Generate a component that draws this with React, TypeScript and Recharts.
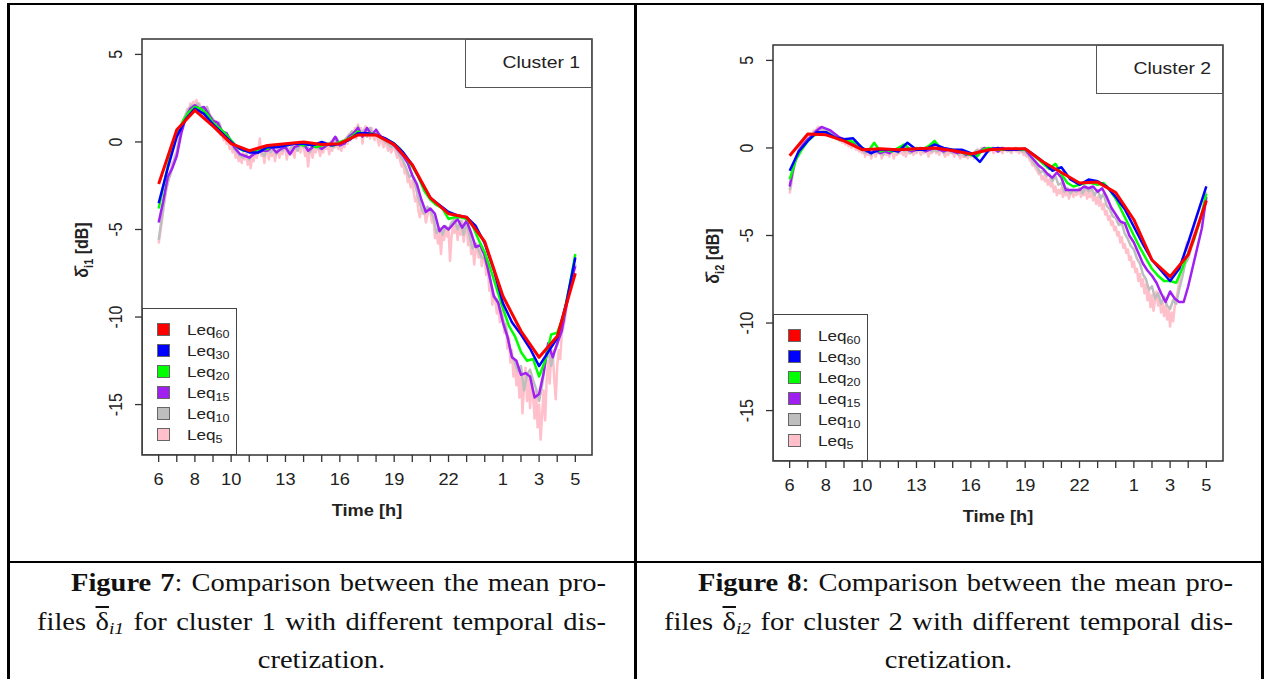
import React from "react";
import { LineChart, Line, XAxis, YAxis, ReferenceArea, Legend } from "recharts";

// hour ticks (6h .. 5h next day, written as 6..29)
const hourTicks = [6, 7, 8, 9, 10, 11, 12, 13, 14, 15, 16, 17, 18, 19, 20, 21, 22, 23, 24, 25, 26, 27, 28, 29];
const hourLabels = ["6", "", "8", "", "10", "", "", "13", "", "", "16", "", "", "19", "", "", "22", "", "", "1", "", "3", "", "5"];
const deltaTicks = [-15, -10, -5, 0, 5];

const seriesNames = ["Leq60", "Leq30", "Leq20", "Leq15", "Leq10", "Leq5"];
const seriesSubs = ["60", "30", "20", "15", "10", "5"];
const seriesColors = ["#FF0000", "#0000FF", "#00FF00", "#A020F0", "#BEBEBE", "#FFC0CB"];
const seriesWidths = [3, 2.5, 2.5, 2.5, 2.5, 2.5];
const samplesPerHour = [1, 2, 3, 4, 6, 12];

// ---- cluster 1 ----
const c1Leq60 = [-2.4, 0.7, 1.8, 0.9, -0.1, -0.5, -0.2, -0.1, 0.0, -0.15, -0.1, 0.4, 0.4, -0.15, -1.3, -3.2, -4.1, -4.3, -5.7, -8.8, -10.8, -12.3, -11.1, -7.5];
const c1Leq30 = [
  -3.5, -1.5, 0.3, 1.3, 1.9, 1.6, 1.0, 0.5, 0.0, -0.4, -0.6, -0.6, -0.3, -0.3, -0.2, -0.1,
  -0.1, -0.2, 0.0, -0.2, -0.1, 0.1, 0.5, 0.5, 0.4, 0.2, -0.1, -0.6, -1.3, -2.3, -3.2, -3.6,
  -4.0, -4.2, -4.3, -4.8, -5.8, -7.3, -9.2, -10.3, -11.0, -11.8, -12.8, -12.0, -11.2, -9.2, -6.6,
];
const c1Leq20 = [
  -3.8, -2.2, -0.6, 0.4, 1.2, 1.7, 2.0, 1.9, 1.6, 1.1, 0.8, 0.5,
  0.1, -0.3, -0.5, -0.5, -0.5, -0.4, -0.4, -0.2, -0.2, -0.2, -0.1, -0.1,
  -0.2, -0.1, -0.3, -0.2, -0.1, -0.2, 0.0, 0.1, 0.3, 0.6, 0.4, 0.5,
  0.4, 0.2, 0.1, -0.1, -0.4, -0.9, -1.4, -2.0, -2.8, -3.3, -3.6, -3.8,
  -4.4, -4.3, -4.3, -4.4, -4.8, -5.6, -6.3, -7.3, -8.4, -9.5, -10.5, -11.1,
  -12.0, -12.5, -12.4, -13.4, -12.5, -11.0, -10.9, -10.0, -8.3, -6.4,
];
const c1Leq15 = [
  -4.6, -3.4, -2.0, -1.5, -0.8, 0.5, 1.4, 1.9, 2.1, 1.9, 2.0, 1.6,
  1.2, 1.1, 0.6, 0.5, 0.0, -0.4, -0.7, -0.8, -0.9, -0.7, -0.6, -0.5,
  -0.5, -0.3, -0.6, -0.4, -0.3, -0.7, -0.3, -0.2, -0.1, -0.5, -0.3, -0.2,
  -0.4, -0.2, -0.1, 0.3, -0.2, -0.1, 0.3, 0.5, 0.8, 0.3, 0.8, 0.4,
  0.7, 0.3, 0.2, 0.0, -0.2, -0.5, -0.8, -1.2, -1.9, -2.4, -3.3, -4.0,
  -3.8, -4.1, -5.1, -4.8, -5.0, -4.7, -4.4, -4.9, -4.5, -5.2, -6.0, -5.9,
  -6.5, -7.6, -8.8, -9.2, -10.3, -11.1, -12.3, -12.5, -13.3, -13.2, -13.4, -14.6,
  -14.4, -13.2, -11.5, -12.3, -11.5, -10.8, -9.4, -8.0, -7.1,
];
const c1Leq10 = [
  -5.6, -4.4, -3.2, -2.3, -1.8, -1.1,
  -0.6, 0.4, 1.1, 1.6, 1.9, 2.1,
  2.0, 2.2, 1.9, 1.8, 2.0, 1.5,
  1.3, 1.0, 1.1, 0.6, 0.4, 0.2,
  0.0, -0.4, -0.6, -0.8, -0.9, -0.7,
  -1.0, -0.6, -0.7, -0.4, -0.6, -0.8,
  -0.3, -0.6, -0.4, -0.7, -0.3, -0.5,
  -0.2, -0.6, -0.3, -0.2, -0.5, -0.1,
  -0.3, -0.1, -0.6, -0.3, -0.2, -0.4,
  -0.1, -0.3, -0.2, 0.0, -0.3, 0.2,
  -0.2, -0.1, 0.2, 0.4, 0.6, 0.3,
  0.9, 0.4, 0.7, 0.3, 0.8, 0.4,
  0.6, 0.3, 0.2, 0.0, -0.1, -0.3,
  -0.2, -0.5, -0.8, -1.1, -1.5, -2.0,
  -1.9, -2.5, -3.2, -3.8, -4.1, -3.7,
  -3.9, -4.3, -5.2, -4.9, -5.3, -4.8,
  -5.0, -4.6, -4.4, -5.0, -4.5, -5.3,
  -4.6, -5.4, -6.1, -5.8, -6.2, -6.6,
  -6.7, -7.2, -8.1, -8.9, -9.0, -9.6,
  -10.1, -10.6, -11.5, -12.2, -12.6, -13.1,
  -12.8, -14.2, -13.3, -13.0, -13.6, -14.1,
  -14.8, -13.9, -12.6, -11.9, -12.8, -12.0,
  -11.6, -11.0, -10.1, -9.2, -8.4, -7.6,
  -7.0,
];
const c1Leq5 = [
  -5.8, -5.2, -4.6, -3.9, -3.3, -2.6, -2.4, -1.9, -1.6, -1.2, -1.1, -0.7,
  -0.6, -0.1, 0.3, 0.7, 1.1, 1.4, 1.5, 1.9, 1.8, 2.2, 2.0, 2.3,
  2.0, 2.4, 1.9, 2.2, 1.7, 2.0, 1.6, 1.9, 1.4, 1.8, 1.2, 1.4,
  1.1, 0.8, 1.2, 0.7, 0.9, 0.4, 0.6, 0.1, 0.3, -0.1, 0.1, -0.4,
  -0.2, -0.6, -0.3, -0.9, -0.5, -1.1, -0.8, -1.2, -0.6, -1.0, -0.7, -1.3,
  -0.9, -1.5, -0.7, -1.1, -0.4, -0.9, -0.6, 0.2, -0.8, -0.5, -1.2, -0.6,
  -0.3, -1.0, -0.5, -0.8, -0.2, -1.1, -0.6, -0.3, -0.9, -0.4, -0.7, -0.2,
  -0.5, -1.0, -0.3, -0.7, -0.1, -0.6, -0.9, -0.2, -0.5, 0.0, -0.6, -0.3,
  -0.2, -0.8, -0.4, -1.4, -0.6, -0.3, -0.9, -0.2, -0.6, -0.1, -0.4, -0.8,
  -0.3, -0.6, 0.0, -0.4, -0.2, -0.7, -0.1, -0.5, 0.2, -0.3, -0.1, -0.4,
  -0.2, -0.5, 0.1, -0.3, 0.2, -0.1, 0.4, 0.1, 0.6, 0.3, 0.8, 0.2,
  1.0, 0.4, 0.8, -0.1, 0.6, 0.9, 0.3, 0.7, 0.2, 0.8, 0.4, 0.1,
  0.5, 0.2, -0.2, 0.4, 0.0, -0.3, 0.1, -0.2, -0.5, -0.1, -0.6, -0.4,
  -0.3, -0.6, -0.9, -0.7, -1.1, -1.4, -1.2, -1.8, -1.6, -2.3, -2.1, -2.6,
  -2.2, -2.9, -3.4, -3.1, -3.9, -4.3, -3.7, -4.1, -3.9, -4.6, -4.2, -3.8,
  -4.0, -4.6, -4.3, -5.5, -5.0, -5.8, -5.2, -6.4, -5.1, -5.6, -4.9, -5.4,
  -5.0, -6.8, -5.4, -4.7, -5.2, -4.4, -5.6, -4.8, -5.3, -4.5, -5.7, -5.1,
  -4.8, -5.9, -5.3, -6.4, -5.8, -7.0, -6.2, -5.9, -6.6, -6.1, -7.1, -6.5,
  -6.8, -7.6, -7.0, -8.5, -8.1, -9.3, -8.7, -9.0, -9.8, -9.2, -10.3, -9.6,
  -10.0, -10.9, -10.4, -11.8, -11.2, -12.6, -11.9, -13.4, -12.7, -13.9, -13.1, -14.6,
  -13.2, -15.5, -14.0, -12.9, -14.8, -13.5, -15.2, -13.8, -14.5, -15.8, -14.2, -16.3,
  -15.0, -17.0, -15.6, -14.2, -15.9, -13.6, -12.5, -13.8, -12.2, -11.9, -13.5, -14.7,
  -12.8, -11.9, -12.4, -11.0, -10.6, -10.2, -9.5, -9.0, -8.6, -8.1, -7.7, -7.3,
  -7.0,
];

// ---- cluster 2 ----
const c2Leq60 = [-0.45, 0.8, 0.75, 0.4, -0.1, -0.05, -0.1, -0.05, 0.0, -0.15, -0.35, -0.1, -0.05, -0.05, -0.8, -1.4, -2.0, -1.95, -2.55, -4.1, -6.4, -7.35, -6.1, -3.0];
const c2Leq30 = [
  -1.3, -0.2, 0.4, 0.9, 0.9, 0.6, 0.5, 0.55, 0.0, -0.3, -0.1, -0.1, -0.2, 0.3, -0.1, -0.1,
  0.2, 0.0, -0.1, -0.1, -0.3, -0.8, -0.1, 0.0, -0.1, -0.1, -0.05, -0.4, -0.8, -1.3, -1.1, -1.8,
  -2.1, -1.8, -1.9, -2.2, -2.8, -3.5, -4.5, -5.5, -6.4, -7.0, -7.6, -6.9, -5.4, -3.8, -2.2,
];
const c2Leq20 = [
  -1.8, -0.7, -0.1, 0.4, 0.7, 0.9, 0.9, 0.7, 0.5, 0.5, 0.4, 0.3,
  0.0, -0.2, 0.3, -0.2, -0.1, -0.2, 0.0, 0.2, -0.1, 0.0, -0.1, 0.1,
  0.4, 0.0, -0.1, -0.1, -0.2, -0.3, -0.4, -0.5, -0.1, 0.0, -0.1, -0.1,
  -0.1, -0.1, -0.1, -0.1, -0.3, -0.6, -0.9, -1.2, -0.9, -1.5, -2.0, -2.2,
  -2.1, -2.0, -2.0, -2.1, -2.0, -2.4, -2.9, -3.6, -4.3, -5.0, -5.7, -6.3,
  -6.9, -7.3, -7.6, -7.6, -7.7, -6.9, -6.0, -5.2, -4.1, -2.6,
];
const c2Leq15 = [
  -2.2, -0.9, -0.2, 0.2, 0.5, 0.7, 1.0, 1.2, 1.1, 1.0, 0.8, 0.6,
  0.5, 0.4, 0.3, 0.2, 0.0, -0.2, -0.3, -0.1, -0.3, -0.2, -0.3, -0.1,
  -0.2, 0.0, -0.1, -0.2, -0.1, 0.0, -0.2, -0.1, 0.0, -0.1, -0.2, -0.1,
  -0.2, -0.3, -0.2, -0.4, -0.3, -0.4, -0.2, 0.0, -0.1, 0.0, -0.2, 0.0,
  -0.1, -0.1, -0.1, -0.1, -0.1, -0.4, -0.7, -1.0, -1.2, -1.5, -1.7, -1.4,
  -1.7, -2.4, -2.4, -2.4, -2.4, -2.2, -2.3, -2.2, -2.5, -2.3, -2.8, -3.4,
  -3.8, -4.2, -4.3, -5.0, -5.4, -6.0, -6.6, -7.0, -7.3, -7.7, -8.3, -8.8,
  -8.2, -8.6, -8.8, -8.8, -7.9, -6.8, -5.7, -4.6, -2.8,
];
const c2Leq10 = [
  -2.4, -1.4, -0.6, -0.1, 0.2, 0.4,
  0.5, 0.7, 0.9, 1.0, 1.1, 1.0,
  1.0, 0.9, 0.8, 0.6, 0.6, 0.4,
  0.5, 0.3, 0.4, 0.2, 0.1, 0.1,
  -0.1, -0.3, -0.2, -0.4, -0.1, -0.3,
  -0.2, -0.4, -0.1, -0.3, -0.2, -0.1,
  -0.3, 0.0, -0.2, -0.1, -0.3, -0.1,
  -0.2, 0.0, -0.2, -0.1, 0.0, -0.2,
  -0.1, -0.2, 0.0, -0.3, -0.1, -0.2,
  -0.3, -0.2, -0.4, -0.2, -0.5, -0.3,
  -0.4, -0.3, -0.1, -0.2, 0.0, -0.1,
  -0.2, 0.0, -0.1, -0.2, 0.0, -0.1,
  -0.1, -0.2, -0.1, 0.0, -0.1, -0.2,
  -0.2, -0.4, -0.6, -0.9, -1.1, -1.4,
  -1.3, -1.6, -1.5, -1.9, -1.6, -2.1,
  -2.0, -2.5, -2.3, -2.6, -2.4, -2.5,
  -2.3, -2.6, -2.2, -2.5, -2.3, -2.7,
  -2.4, -2.9, -2.6, -3.3, -3.5, -3.9,
  -4.0, -4.4, -4.3, -4.9, -5.2, -5.6,
  -5.8, -6.3, -6.6, -7.2, -7.5, -8.1,
  -7.9, -8.6, -8.3, -8.9, -8.5, -9.0,
  -9.2, -8.7, -8.9, -8.1, -7.4, -6.6,
  -6.3, -5.7, -5.2, -4.6, -4.0, -3.5,
  -3.0,
];
const c2Leq5 = [
  -2.6, -2.1, -1.5, -1.1, -0.7, -0.5, -0.2, 0.0, 0.2, 0.3, 0.5, 0.4,
  0.6, 0.5, 0.8, 0.7, 1.0, 0.8, 1.1, 1.2, 1.0, 1.1, 0.9, 1.0,
  1.0, 0.8, 1.0, 0.7, 0.9, 0.6, 0.7, 0.5, 0.6, 0.4, 0.5, 0.3,
  0.4, 0.2, 0.4, 0.1, 0.3, 0.0, 0.2, 0.1, -0.1, 0.0, -0.2, -0.1,
  -0.3, -0.1, -0.5, -0.2, -0.4, -0.1, -0.6, -0.3, -0.2, -0.5, -0.1, -0.3,
  -0.2, -0.6, -0.3, -0.1, -0.4, -0.2, -0.5, -0.1, -0.3, -0.6, -0.2, -0.4,
  -0.1, -0.3, 0.0, -0.4, -0.2, -0.5, -0.1, -0.3, 0.0, -0.2, -0.4, -0.1,
  -0.3, 0.0, -0.2, -0.4, -0.1, -0.3, 0.0, -0.2, -0.5, -0.1, -0.3, -0.2,
  0.0, -0.3, -0.1, -0.4, -0.2, -0.1, -0.3, -0.5, -0.2, -0.4, -0.1, -0.3,
  -0.2, -0.5, -0.3, -0.1, -0.4, -0.6, -0.3, -0.5, -0.2, -0.4, -0.6, -0.3,
  -0.5, -0.3, -0.6, -0.2, -0.4, -0.1, -0.3, 0.0, -0.2, -0.1, -0.3, 0.0,
  -0.2, -0.1, 0.0, -0.3, -0.1, -0.2, 0.0, -0.2, -0.1, -0.3, 0.0, -0.1,
  -0.2, 0.0, -0.1, -0.3, -0.1, 0.0, -0.2, -0.1, -0.3, -0.1, -0.2, -0.4,
  -0.3, -0.5, -0.4, -0.7, -0.8, -1.0, -0.9, -1.2, -1.3, -1.5, -1.4, -1.8,
  -1.6, -1.9, -1.7, -2.1, -1.8, -2.2, -2.0, -2.5, -2.2, -2.7, -2.4, -2.6,
  -2.3, -2.8, -2.5, -2.7, -2.4, -2.9, -2.6, -2.4, -2.8, -2.5, -2.7, -2.6,
  -2.4, -2.8, -2.5, -2.7, -2.3, -2.9, -2.6, -2.8, -2.4, -3.0, -2.7, -3.2,
  -2.8, -3.3, -3.0, -3.5, -3.2, -3.8, -3.6, -4.1, -3.9, -4.4, -4.2, -4.7,
  -4.5, -5.0, -4.8, -5.4, -5.1, -5.7, -5.5, -6.0, -5.8, -6.4, -6.2, -6.8,
  -6.5, -7.1, -6.9, -7.6, -7.2, -7.9, -7.5, -8.3, -7.8, -8.7, -8.2, -9.1,
  -8.4, -9.3, -8.7, -8.2, -9.0, -8.5, -9.4, -8.8, -9.6, -9.0, -9.8, -9.2,
  -10.2, -9.4, -9.9, -9.1, -8.7, -8.2, -7.6, -7.1, -6.8, -6.3, -5.9, -5.4,
  -5.9, -5.5, -5.1, -4.8, -4.4, -4.1, -3.8, -3.6, -3.3, -3.1, -2.9, -2.7,
  -2.5,
];

const cluster1 = [c1Leq60, c1Leq30, c1Leq20, c1Leq15, c1Leq10, c1Leq5];
const cluster2 = [c2Leq60, c2Leq30, c2Leq20, c2Leq15, c2Leq10, c2Leq5];

const X_DOMAIN: [number, number] = [5.08, 29.92];
const Y_DOMAIN: [number, number] = [-17.88, 5.88];
const STRETCH = 1.14; // the scanned figure is a little wider than tall
const SANS = '"Liberation Sans", Arial, Helvetica, sans-serif';
const SERIF = '"Liberation Serif", "Times New Roman", Times, serif';

function toPoints(values: number[], perHour: number) {
  return values.map((y, i) => ({ x: 6 + i / perHour, y }));
}

function XTick(props: any) {
  const { x, y, payload } = props;
  const label = hourLabels[hourTicks.indexOf(payload.value)];
  if (!label) return <g />;
  return (
    <text transform={`translate(${x},${y + 21}) scale(${STRETCH},1)`} textAnchor="middle" fontSize={16} fill="#222" fontFamily={SANS}>
      {label}
    </text>
  );
}

function YTick(props: any) {
  const { x, y, payload } = props;
  return (
    <text transform={`translate(${x},${y}) scale(${STRETCH},1) rotate(-90)`} textAnchor="middle" fontSize={16} fill="#222" fontFamily={SANS}>
      {payload.value}
    </text>
  );
}

function XTitle(props: any) {
  const vb = props.viewBox;
  return (
    <text transform={`translate(${vb.x + vb.width / 2},${vb.y + 61}) scale(${STRETCH},1)`} textAnchor="middle" fontSize={16} fontWeight="bold" fill="#222" fontFamily={SANS}>
      Time [h]
    </text>
  );
}

function YTitle(props: any) {
  const vb = props.viewBox;
  return (
    <text transform={`translate(${vb.x + 8},${vb.y + vb.height / 2 + 3}) scale(${STRETCH},1) rotate(-90)`} textAnchor="middle" fontSize={16} fontWeight="bold" fill="#222" fontFamily={SANS}>
      <tspan>{"\u03B4\u0304"}</tspan>
      <tspan fontSize={11} dy={4}>{props.sub}</tspan>
      <tspan dy={-4}> [dB]</tspan>
    </text>
  );
}

function LegendBox() {
  return (
    <div style={{ width: 95, height: 147, boxSizing: "border-box", border: "1.5px solid #444", background: "#fff", position: "relative", fontFamily: SANS }}>
      {seriesNames.map((name, i) => (
        <div key={name} style={{ position: "absolute", left: 0, top: 10.5 + i * 21, height: 20, width: "100%" }}>
          <span style={{ position: "absolute", left: 14, top: 3.5, width: 13, height: 13, boxSizing: "border-box", background: seriesColors[i], border: "1px solid #666" }} />
          <span style={{ position: "absolute", left: 44, top: 0, lineHeight: "20px", fontSize: 15, color: "#222", whiteSpace: "nowrap", transform: `scaleX(${STRETCH})`, transformOrigin: "left center" }}>
            Leq<span style={{ fontSize: 11, position: "relative", top: 3 }}>{seriesSubs[i]}</span>
          </span>
        </div>
      ))}
    </div>
  );
}

function Panel({ left, top, cluster, sub, data }: { left: number; top: number; cluster: string; sub: string; data: number[][] }) {
  const W = 635;
  const H = 560;
  const drawOrder = [5, 4, 3, 2, 1, 0];
  return (
    <div style={{ position: "absolute", left, top, width: W, height: H }}>
      <LineChart width={W} height={H} margin={{ top: 39, right: 43, bottom: 45, left: 80 }}>
        <XAxis
          type="number"
          dataKey="x"
          domain={X_DOMAIN}
          ticks={hourTicks}
          interval={0}
          allowDataOverflow
          axisLine={false}
          tickSize={7}
          tickMargin={2}
          tickLine={{ stroke: "#333", strokeWidth: 1.3 }}
          tick={(p: any) => <XTick {...p} />}
          height={60}
          label={<XTitle />}
        />
        <YAxis
          type="number"
          dataKey="y"
          domain={Y_DOMAIN}
          ticks={deltaTicks}
          interval={0}
          allowDataOverflow
          axisLine={false}
          tickSize={7}
          tickMargin={13}
          tickLine={{ stroke: "#333", strokeWidth: 1.3 }}
          tick={(p: any) => <YTick {...p} />}
          width={62}
          label={<YTitle sub={sub} />}
        />
        <ReferenceArea x1={X_DOMAIN[0]} x2={X_DOMAIN[1]} y1={Y_DOMAIN[0]} y2={Y_DOMAIN[1]} fill="none" stroke="#333" strokeWidth={1.5} strokeOpacity={1} />
        {drawOrder.map((k) => (
          <Line
            key={seriesNames[k]}
            name={seriesNames[k]}
            data={toPoints(data[k], samplesPerHour[k])}
            dataKey="y"
            type="linear"
            stroke={seriesColors[k]}
            strokeWidth={seriesWidths[k]}
            strokeLinejoin="round"
            dot={false}
            activeDot={false}
            isAnimationActive={false}
          />
        ))}
        <Legend
          layout="horizontal"
          verticalAlign="middle"
          align="center"
          content={() => <LegendBox />}
          wrapperStyle={{ left: 142, top: 308, width: 95, height: 147 }}
        />
      </LineChart>
      <div style={{ position: "absolute", left: 465, top: 39, width: 127, height: 49, boxSizing: "border-box", border: "1.5px solid #555", background: "#fff", fontFamily: SANS }}>
        <span style={{ position: "absolute", right: 11, top: 13, lineHeight: "20px", fontSize: 17, color: "#222", whiteSpace: "nowrap", transform: `scaleX(${STRETCH})`, transformOrigin: "right center" }}>
          {cluster}
        </span>
      </div>
    </div>
  );
}

function CaptionLine({ left, width, baseline, center, children }: { left: number; width: number; baseline: number; center?: boolean; children: React.ReactNode }) {
  return (
    <div
      style={{
        position: "absolute",
        left,
        top: baseline - 28,
        width: center ? width : width / STRETCH,
        fontFamily: SERIF,
        fontSize: 25,
        lineHeight: "39px",
        color: "#111",
        textAlign: center ? "center" : "justify",
        textAlignLast: center ? "center" : "justify",
        transform: `scaleX(${STRETCH})`,
        transformOrigin: center ? "center top" : "left top",
      }}
    >
      {children}
    </div>
  );
}

function Delta({ sub }: { sub: string }) {
  return (
    <>
      <span style={{ textDecoration: "overline" }}>{"\u03B4"}</span>
      <span style={{ fontSize: 17, fontStyle: "italic", position: "relative", top: 4 }}>{sub}</span>
    </>
  );
}

function Caption({ cellLeft, cellWidth, num, sub, cluster }: { cellLeft: number; cellWidth: number; num: string; sub: string; cluster: string }) {
  return (
    <>
      <CaptionLine left={cellLeft + 63} width={cellWidth - 92} baseline={591}>
        <b>Figure {num}</b>: Comparison between the mean pro-
      </CaptionLine>
      <CaptionLine left={cellLeft + 29} width={cellWidth - 58} baseline={630}>
        files <Delta sub={sub} /> for cluster {cluster} with different temporal dis-
      </CaptionLine>
      <CaptionLine left={cellLeft} width={cellWidth} baseline={668} center>
        cretization.
      </CaptionLine>
    </>
  );
}

export default function App() {
  const rule = (style: React.CSSProperties) => <div style={{ position: "absolute", background: "#000", ...style }} />;
  return (
    <div style={{ position: "absolute", left: 0, top: 0, width: 1266, height: 679, background: "#fff", overflow: "hidden" }}>
      <Panel left={0} top={0} cluster="Cluster 1" sub="i1" data={cluster1} />
      <Panel left={631} top={6} cluster="Cluster 2" sub="i2" data={cluster2} />
      {rule({ left: 7, top: 3, width: 1257, height: 2 })}
      {rule({ left: 7, top: 3, width: 2.5, height: 676 })}
      {rule({ left: 634, top: 3, width: 2.5, height: 676 })}
      {rule({ left: 1261, top: 3, width: 2.5, height: 676 })}
      {rule({ left: 7, top: 561, width: 1257, height: 2 })}
      <Caption cellLeft={8} cellWidth={627} num="7" sub="i1" cluster="1" />
      <Caption cellLeft={635} cellWidth={627} num="8" sub="i2" cluster="2" />
    </div>
  );
}
